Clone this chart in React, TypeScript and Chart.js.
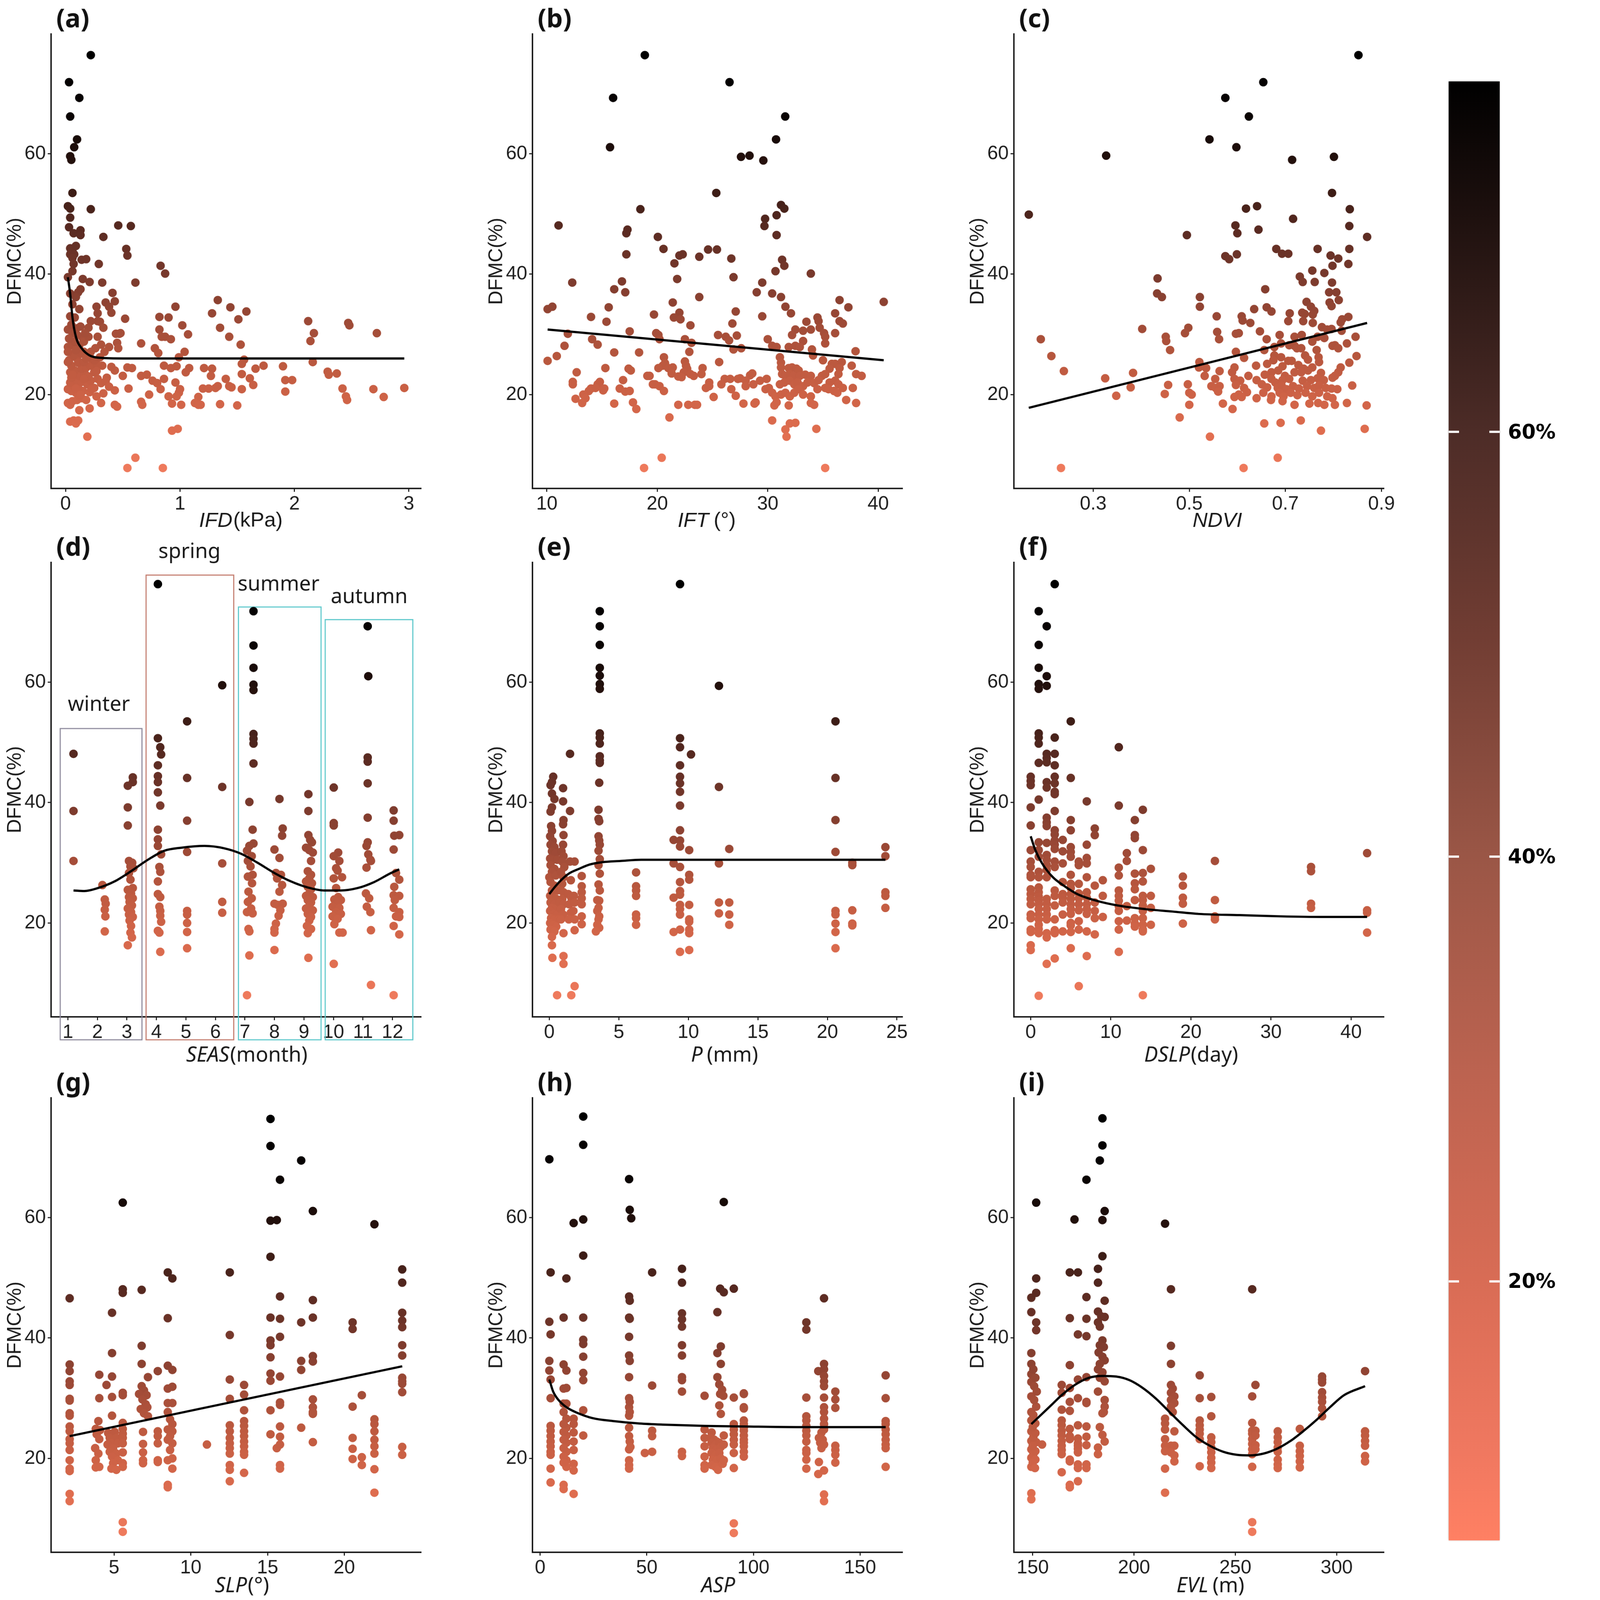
import { useEffect, useRef } from 'react';
import { Chart, registerables } from 'chart.js';

Chart.register(...registerables);

type Pt = [number, number];
type Col = [number, number[]];

// ---- (a) IFD ----
const ifdPoints: Pt[] = [
  [0.22,76.4],[0.03,71.9],[0.12,69.3],[0.04,66.2],[0.10,62.4],[0.075,61.1],[0.04,59.6],[0.05,59.0],[0.06,53.5],[0.02,51.3],[0.04,50.9],[0.04,49.4],[0.22,50.8],[0.07,46.8],[0.13,47.3],[0.13,46.5],[0.46,48.1],[0.57,48.0],[0.33,46.2],[0.04,44.3],[0.06,44.1],[0.04,43.3],[0.075,43.3],[0.06,42.7],[0.14,42.4],[0.18,42.5],[0.53,44.2],[0.54,43.1],[0.29,41.7],[0.83,41.4],[0.87,40.1],[0.06,40.5],[0.02,39.5],[0.15,39.2],[0.21,38.7],[0.32,38.6],[0.61,38.6],[0.13,37.5],[0.11,37.0],[0.04,36.8],[0.09,36.2],[0.41,36.9],[0.43,35.5],[0.35,35.3],[0.38,34.6],[0.40,33.6],[0.27,34.6],[0.28,33.5],[0.12,34.2],[0.04,33.0],
  [0.96,34.6],[1.33,35.7],[1.44,34.5],[1.58,33.8],[1.28,33.5],[0.82,32.9],[0.90,32.8],[0.52,32.6],[0.28,32.2],[0.30,32.1],[1.51,32.5],[2.12,32.2],[2.47,31.9],[2.48,31.5],[1.02,31.5],[1.35,31.1],[0.82,30.8],[0.02,30.8],[0.06,30.2],[0.095,31.0],[1.07,30.0],[2.17,30.2],[2.72,30.2],[0.44,30.1],[0.47,30.1],[0.48,30.2],[0.84,29.6],[0.87,29.6],[0.92,29.2],[1.43,29.6],[0.28,29.6],[0.15,29.4],[2.14,28.9],[0.45,28.6],[0.31,28.3],[0.66,28.5],[1.53,28.3],[0.02,27.9],[0.05,28.2],[0.12,28.2],[0.38,27.9],[0.46,27.7],[0.78,27.7],[0.81,26.9],[1.04,27.1],[0.16,27.1],[0.22,27.1],[0.99,26.2],[1.56,25.8],[1.54,25.1],[2.16,25.4],[0.03,25.7],[0.10,26.0],[0.22,26.0],
  [0.32,24.8],[0.54,24.5],[0.58,24.4],[0.86,24.8],[0.92,24.4],[0.97,24.7],[1.08,24.4],[1.21,24.4],[1.28,24.3],[1.66,24.3],[1.73,24.8],[1.90,24.7],[0.43,24.0],[1.05,23.7],[2.29,23.8],[2.30,23.3],[2.37,23.5],[1.54,23.4],[1.27,23.1],[0.36,22.8],[0.50,23.1],[0.66,23.1],[0.71,23.3],[1.40,22.6],[1.61,22.7],[0.86,22.6],[0.96,22.0],[1.92,22.4],[1.98,22.4],[0.76,22.3],[0.80,21.9],[1.64,21.6],[1.43,21.4],[1.45,21.2],[0.55,21.0],[1.20,21.0],[1.25,21.0],[1.31,21.1],[1.33,21.4],[1.54,20.9],[2.42,21.0],[2.69,20.9],[2.96,21.1],[1.00,20.9],[0.99,20.3],[1.92,20.5],[0.83,20.9],[0.73,20.0],[0.43,20.7],[0.97,19.7],[0.90,19.7],[2.45,19.7],[2.46,19.1],[2.78,19.6],[1.16,19.6],[0.66,18.8],[0.67,18.3],[0.93,18.5],[1.01,18.3],[1.13,18.6],[1.16,18.3],[1.18,18.3],[1.35,18.4],[1.50,18.2],[0.31,18.6],[0.43,18.3],[0.45,18.0],
  [0.02,18.6],[0.04,18.3],[0.06,18.9],[0.10,19.1],[0.14,19.4],[0.18,19.1],[0.12,19.8],[0.09,20.3],[0.05,20.6],[0.02,20.9],[0.15,20.6],[0.21,20.4],[0.25,21.1],[0.11,21.1],[0.07,21.5],[0.04,22.0],[0.10,22.3],[0.14,22.1],[0.19,21.7],[0.22,22.3],[0.28,22.6],[0.31,21.9],[0.05,22.8],[0.12,23.1],[0.17,23.4],[0.20,23.0],[0.25,23.7],[0.04,23.7],[0.08,24.0],[0.14,24.3],[0.18,24.5],[0.22,24.8],[0.28,24.9],[0.05,24.8],[0.11,25.3],[0.02,25.4],[0.16,25.4],[0.25,25.7],[0.30,26.2],[0.07,26.5],[0.14,26.8],[0.19,26.5],[0.09,27.4],[0.02,27.1],[0.08,28.8],[0.16,28.8],[0.20,29.6],[0.33,31.1],[0.13,31.3],[0.05,31.6],[0.22,32.2],[0.08,32.8],[0.20,31.1],[0.17,30.2],[0.26,27.7],[0.34,27.1],[0.27,19.7],[0.21,17.7],[0.12,17.4],
  [0.06,23.3],[0.16,22.6],[0.09,21.0],[0.13,20.0],[0.23,20.9],[0.27,23.9],[0.35,22.2],[0.38,21.3],[0.33,20.2],[0.40,24.6],[0.18,26.0],[0.03,29.3],[0.10,29.9],[0.06,35.0],[0.03,47.8],[0.09,44.7],[0.07,41.7],
  [0.19,13.0],[0.04,15.5],[0.07,15.7],[0.09,15.2],[0.11,15.7],[0.93,14.0],[0.98,14.3],[0.61,9.5],[0.54,7.8],[0.85,7.8],
];
const ifdFit: Pt[] = [[0.02,39.5],[0.04,36.7],[0.06,32.8],[0.09,29.6],[0.14,27.7],[0.21,26.5],[0.31,26.1],[0.5,26.0],[1.0,26.0],[2.0,26.0],[2.96,26.0]];

// ---- (b) IFT ----
const iftPoints: Pt[] = [
  [18.87,76.4],[26.54,71.9],[16.0,69.3],[31.58,66.2],[30.75,62.4],[15.72,61.1],[27.58,59.5],[28.35,59.7],[29.6,58.9],[25.34,53.5],[18.47,50.8],[31.2,51.5],[31.5,50.9],[30.8,49.8],[29.76,49.2],[29.7,48.0],[11.06,48.1],[17.3,47.4],[17.2,46.8],[30.8,46.5],[20.05,46.2],[20.56,44.2],[24.6,44.1],[25.4,44.1],[22.0,43.1],[22.3,43.3],[17.2,43.3],[23.8,42.9],[26.7,42.6],[31.3,42.4],[31.5,41.4],[21.55,41.8],[21.8,39.2],[26.9,39.5],[30.7,40.5],[33.9,40.1],[12.3,38.6],[16.8,38.8],[29.5,38.6],[16.1,37.5],[17.1,37.0],[29.0,37.0],[30.4,36.8],[23.8,36.2],[31.2,36.2],
  [10.07,34.2],[10.5,34.6],[21.4,35.3],[36.5,35.7],[40.5,35.4],[15.6,34.5],[31.6,34.6],[37.3,34.5],[14.0,32.9],[19.7,33.3],[22.0,33.6],[27.1,33.8],[29.5,33.0],[32.1,33.5],[36.1,33.5],[15.4,32.1],[21.5,32.8],[22.1,32.5],[33.5,32.1],[34.5,32.8],[34.6,32.2],[36.5,32.2],[36.8,31.8],[23.0,31.5],[26.8,31.8],[33.9,30.8],[34.7,31.1],[32.5,30.8],[33.2,30.6],[17.5,30.5],[11.9,30.1],[19.9,30.2],[20.1,29.9],[25.5,29.9],[26.2,29.6],[27.2,29.8],[32.2,29.9],[35.1,30.2],[36.1,30.2],[14.1,29.2],[20.2,29.2],[22.5,29.2],[26.5,29.0],[30.0,29.2],[33.2,28.9],[35.2,29.6],[14.6,28.3],[23.1,28.6],[30.4,28.1],[30.8,27.9],[31.9,27.9],[32.5,28.1],[32.9,27.9],[35.2,28.5],[11.6,28.1],[18.35,27.0],[16.1,27.0],[22.9,27.1],[26.9,27.5],[27.6,27.7],[34.0,27.5],[37.95,27.2],[10.9,26.4],[20.6,26.2],[31.1,26.2],[34.1,26.5],
  [10.07,25.6],[25.6,25.4],[31.2,25.3],[35.0,25.7],[35.8,25.1],[36.1,25.1],[36.7,25.4],[20.7,25.2],[20.5,24.8],[20.1,24.4],[22.5,25.5],[22.6,24.8],[15.3,24.4],[17.4,24.3],[17.6,24.0],[21.0,24.4],[21.4,24.5],[24.1,24.4],[22.7,24.3],[31.2,24.5],[31.9,24.4],[32.2,24.5],[32.6,24.3],[32.8,24.0],[37.6,24.8],[35.6,24.3],[36.5,24.4],[12.7,23.7],[21.3,23.5],[22.4,23.7],[23.0,23.4],[24.0,23.4],[19.3,23.1],[19.1,23.1],[31.3,23.4],[31.6,23.1],[32.0,23.4],[32.3,23.1],[32.9,23.1],[33.4,23.3],[33.9,23.1],[34.9,23.1],[35.2,23.4],[36.4,23.4],[38.0,23.4],[38.5,23.1],[28.4,23.2],[28.6,23.5],[27.5,22.7],[21.9,23.0],[22.2,22.9],[23.3,23.1],
  [12.35,22.1],[16.9,22.4],[19.8,21.7],[26.1,22.6],[26.6,22.6],[27.3,22.6],[28.0,22.3],[29.3,22.3],[29.9,22.6],[14.6,21.7],[14.8,22.1],[24.7,22.0],[25.8,21.7],[28.0,21.4],[28.7,21.7],[31.1,21.7],[31.5,22.0],[32.0,22.3],[32.4,21.7],[32.7,22.0],[33.2,21.4],[33.6,22.0],[34.2,21.9],[34.6,22.4],[35.6,22.0],[36.1,22.3],[36.4,21.7],[12.35,21.7],[14.0,21.0],[14.4,21.1],[13.8,20.6],[13.3,20.0],[13.5,19.4],[13.2,18.6],[15.1,20.7],[15.2,21.0],[16.6,21.0],[17.1,20.5],[17.5,20.6],[19.6,21.7],[20.2,21.4],[20.6,20.6],[24.4,21.1],[24.7,21.4],[26.7,20.9],[27.1,19.8],[25.1,19.6],[29.8,20.9],[30.1,21.1],[30.4,20.3],[30.7,19.7],[31.2,20.0],[31.6,20.3],[32.0,19.7],[32.4,20.3],[32.8,20.9],[33.2,20.0],[33.9,19.7],[34.5,20.9],[35.2,21.1],[35.5,20.9],[36.0,20.6],[36.3,20.3],[36.8,21.1],[37.7,21.1],
  [12.6,19.3],[16.1,18.5],[17.8,18.7],[18.1,17.6],[21.9,18.3],[22.8,18.3],[23.4,18.3],[23.6,18.3],[27.8,18.5],[28.8,18.5],[28.9,18.7],[30.6,18.2],[30.8,18.7],[31.9,18.2],[33.9,18.6],[34.2,18.3],[37.1,19.1],[38.0,18.6],[21.1,16.2],[30.4,15.7],[32.0,15.2],[32.5,15.3],[31.6,14.2],[31.7,13.0],[34.4,14.3],[20.4,9.5],[18.8,7.8],[35.2,7.8],
];
const iftFit: Pt[] = [[10.07,30.8],[40.5,25.7]];

// ---- (c) NDVI ----
const ndviPoints: Pt[] = [
  [0.852,76.4],[0.654,71.9],[0.575,69.3],[0.624,66.2],[0.542,62.4],[0.598,61.1],[0.327,59.7],[0.801,59.5],[0.714,59.0],[0.797,53.5],[0.166,49.9],[0.618,50.9],[0.641,51.3],[0.834,50.8],[0.716,49.2],[0.596,48.1],[0.833,48.0],[0.495,46.5],[0.600,46.8],[0.644,47.4],[0.870,46.2],[0.681,44.2],[0.767,44.2],[0.833,44.2],[0.693,43.4],[0.706,43.4],[0.599,43.3],[0.575,43.0],[0.583,42.5],[0.794,43.1],[0.810,42.6],[0.831,41.7],[0.798,41.4],[0.756,40.6],[0.781,40.2],[0.434,39.3],[0.730,39.6],[0.736,38.7],[0.761,38.7],[0.797,38.6],[0.658,37.5],[0.791,37.0],[0.806,37.0],[0.433,36.8],[0.443,36.2],[0.522,36.2],[0.811,35.7],[0.744,35.4],[0.792,35.3],[0.796,34.7],
  [0.522,34.6],[0.661,34.5],[0.753,34.6],[0.760,33.9],[0.635,34.2],[0.671,33.8],[0.709,33.5],[0.735,33.6],[0.740,33.4],[0.757,33.3],[0.557,33.0],[0.609,33.0],[0.818,32.5],[0.831,32.9],[0.611,32.3],[0.627,31.9],[0.706,32.2],[0.737,32.2],[0.757,31.9],[0.815,32.0],[0.776,31.2],[0.787,30.8],[0.796,30.9],[0.817,30.6],[0.402,30.9],[0.498,31.1],[0.491,30.2],[0.558,30.4],[0.597,30.1],[0.603,30.2],[0.647,30.5],[0.688,29.9],[0.719,29.6],[0.734,29.9],[0.767,29.6],[0.781,29.4],[0.846,29.6],[0.191,29.2],[0.451,29.6],[0.452,28.9],[0.562,29.2],[0.661,29.2],[0.691,28.5],[0.708,28.2],[0.719,28.1],[0.756,28.8],[0.798,28.1],[0.803,28.2],[0.828,28.5],[0.460,27.4],[0.656,27.4],[0.677,27.9],[0.724,27.7],[0.733,27.7],[0.765,27.4],[0.810,27.7],[0.597,27.1],[0.614,26.1],[0.677,26.5],[0.691,26.2],[0.741,26.5],[0.769,26.2],[0.213,26.4],[0.848,26.4],
  [0.521,25.4],[0.675,25.7],[0.706,25.6],[0.713,25.6],[0.747,25.8],[0.770,25.4],[0.833,25.3],[0.520,24.5],[0.535,24.4],[0.594,24.5],[0.639,24.8],[0.662,25.1],[0.694,24.7],[0.727,24.9],[0.738,24.3],[0.756,24.5],[0.815,24.5],[0.239,23.9],[0.383,23.6],[0.563,23.9],[0.589,23.7],[0.671,23.7],[0.685,24.0],[0.719,23.7],[0.733,23.7],[0.747,24.0],[0.774,23.6],[0.810,23.7],[0.532,23.1],[0.623,23.1],[0.657,23.3],[0.699,23.1],[0.798,22.8],[0.803,23.1],[0.325,22.7],[0.554,22.6],[0.594,22.6],[0.606,22.3],[0.640,22.4],[0.671,22.6],[0.679,22.0],[0.694,22.4],[0.708,22.6],[0.736,22.3],[0.753,22.4],[0.767,22.7],[0.780,22.4],
  [0.378,21.2],[0.456,21.6],[0.497,21.7],[0.546,21.4],[0.555,21.1],[0.563,21.4],[0.597,21.6],[0.614,21.1],[0.651,21.7],[0.662,21.2],[0.684,21.1],[0.692,21.5],[0.702,20.9],[0.716,21.4],[0.728,21.0],[0.745,21.4],[0.760,21.1],[0.770,21.5],[0.784,21.1],[0.796,21.0],[0.808,20.9],[0.839,21.5],[0.348,19.8],[0.449,20.1],[0.500,20.3],[0.505,20.0],[0.560,20.5],[0.603,20.0],[0.620,20.4],[0.654,20.3],[0.671,19.7],[0.688,20.3],[0.696,19.7],[0.711,20.3],[0.725,19.9],[0.742,20.3],[0.756,19.7],[0.770,20.3],[0.787,19.7],[0.798,19.4],[0.594,19.6],[0.609,19.6],[0.640,19.4],[0.670,19.1],[0.694,18.9],[0.719,18.3],[0.750,18.5],[0.768,18.6],[0.781,18.3],[0.803,18.3],[0.828,18.6],[0.500,18.3],[0.570,18.5],[0.590,17.6],[0.869,18.2],
  [0.480,16.2],[0.656,15.2],[0.690,15.3],[0.732,15.7],[0.774,14.0],[0.865,14.3],[0.543,13.0],[0.684,9.5],[0.233,7.8],[0.613,7.8],
];
const ndviFit: Pt[] = [[0.166,17.8],[0.870,31.9]];

// ---- (d) SEAS ----
const seasPoints: Pt[] = [
  [1.19,48.1],[1.19,38.6],[1.19,30.3],
  [2.17,26.3],[2.25,23.9],[2.28,23.2],[2.25,22.2],[2.27,21.1],[2.25,18.6],
  [3.20,44.2],[3.20,43.4],[3.03,42.8],[3.03,39.2],[3.03,36.2],[3.07,30.3],[3.18,30.0],[3.12,29.4],[3.22,29.1],[3.07,28.3],[3.12,27.2],[3.20,25.8],[3.03,25.5],[3.14,24.9],[3.07,24.3],[3.20,24.1],[3.09,23.5],[3.17,22.9],[3.03,22.4],[3.14,21.8],[3.07,21.4],[3.20,21.0],[3.09,20.4],[3.14,19.5],[3.12,18.4],[3.17,17.6],[3.03,16.3],
  [4.05,76.3],[4.05,50.7],[4.13,49.2],[4.16,48.0],[4.05,46.2],[4.05,44.4],[4.05,43.4],[4.05,41.7],[4.13,39.5],[4.05,35.5],[4.05,33.9],[4.05,32.8],[4.16,31.4],[4.10,29.3],[4.13,28.5],[4.05,26.9],[4.05,24.8],[4.13,24.3],[4.10,22.7],[4.13,22.0],[4.13,21.2],[4.16,20.2],[4.05,18.7],[4.10,18.4],[4.13,15.2],
  [5.04,53.5],[5.04,44.1],[5.04,37.0],[5.04,31.8],[5.04,22.0],[5.04,21.4],[5.04,20.0],[5.04,18.5],[5.04,15.8],
  [6.23,59.5],[6.23,42.6],[6.23,29.9],[6.23,23.5],[6.23,21.7],
  [7.29,71.8],[7.29,66.1],[7.29,62.4],[7.29,59.6],[7.29,58.7],[7.29,51.4],[7.29,50.6],[7.29,49.8],[7.29,46.5],[7.15,40.1],[7.26,35.5],[7.29,33.2],[7.15,32.8],[7.07,32.0],[7.23,31.1],[7.10,30.3],[7.19,29.4],[7.26,28.0],[7.10,27.7],[7.24,26.6],[7.12,25.2],[7.23,24.1],[7.10,23.5],[7.21,22.4],[7.07,21.8],[7.26,21.6],[7.12,19.0],[7.15,18.6],[7.15,14.6],[7.07,8.0],
  [8.17,40.6],[8.28,35.7],[8.26,34.5],[8.0,32.2],[8.17,30.8],[8.05,28.3],[8.22,28.0],[8.09,27.4],[8.26,26.3],[8.17,25.2],[8.00,23.2],[8.11,23.0],[8.28,23.2],[8.20,22.1],[8.14,21.2],[8.05,19.9],[8.00,19.0],[8.00,18.4],[8.00,15.5],
  [9.15,41.4],[9.15,38.6],[9.15,34.6],[9.21,33.8],[9.27,33.4],[9.07,32.5],[9.18,32.1],[9.30,31.7],[9.24,30.3],[9.13,28.6],[9.24,28.0],[9.18,27.4],[9.07,26.9],[9.27,26.6],[9.13,26.0],[9.24,25.6],[9.18,24.9],[9.07,24.5],[9.30,24.3],[9.13,23.8],[9.24,23.4],[9.18,22.8],[9.07,22.4],[9.30,22.1],[9.13,21.5],[9.24,21.0],[9.18,20.4],[9.10,19.5],[9.24,19.0],[9.13,18.3],[9.15,14.2],
  [10.01,42.5],[10.01,36.6],[10.01,36.2],[10.16,31.7],[10.01,31.1],[10.20,30.3],[10.09,29.1],[10.14,28.7],[10.29,27.6],[10.01,27.4],[10.09,25.8],[10.16,24.3],[10.25,23.8],[10.03,23.9],[10.14,23.2],[9.97,22.7],[10.20,22.5],[10.09,21.8],[10.25,21.5],[9.97,21.1],[10.14,20.7],[10.03,19.8],[10.20,18.4],[10.31,18.4],[10.01,13.2],
  [11.16,69.3],[11.18,61.0],[11.16,47.5],[11.16,46.8],[11.16,43.2],[11.16,37.5],[11.16,33.4],[11.12,32.8],[11.18,31.4],[11.25,30.5],[11.12,29.2],[11.27,30.3],[11.10,24.9],[11.21,24.1],[11.13,22.7],[11.25,21.8],[11.27,18.8],[11.27,9.7],
  [12.04,38.7],[12.04,37.0],[12.06,34.5],[12.23,34.6],[12.04,32.2],[12.12,28.3],[12.23,27.2],[12.06,26.0],[12.04,24.6],[12.23,24.5],[12.08,23.8],[12.04,22.5],[12.23,21.8],[12.12,21.1],[12.23,21.0],[12.04,19.5],[12.23,18.1],[12.04,8.0],
];
const seasFit: Pt[] = [[1.19,25.4],[1.56,25.3],[2.02,25.8],[2.58,26.9],[3.14,28.6],[3.71,30.5],[4.27,32.0],[4.84,32.5],[5.63,32.8],[6.30,32.4],[6.87,31.5],[7.43,30.0],[8.00,28.3],[8.56,26.9],[9.13,25.9],[9.69,25.4],[10.25,25.4],[10.82,25.8],[11.38,26.8],[11.95,28.3],[12.23,28.9]];
const seasonNames = ['winter', 'spring', 'summer', 'autumn'];
const seasonMonthFrom = [0.74, 3.65, 6.78, 9.72];
const seasonMonthTo = [3.51, 6.62, 9.58, 12.69];
const seasonBoxTop = [52.3, 77.8, 72.5, 70.4];
const seasonLabelAt: Pt[] = [[2.05, 56.2], [5.12, 81.6], [8.14, 76.2], [11.21, 74.1]];

// ---- (e) P ----
const pPoints: Pt[] = [
  [0.28,44.3],[0.19,43.4],[0.09,42.9],[0.19,41.5],[0.37,40.6],[0.19,39.2],[0.09,38.5],[0.13,36.1],[0.19,35.3],[0.06,34.4],[0.24,33.6],[0.09,33.0],[0.37,32.6],[0.19,31.9],[0.47,31.6],[0.06,30.7],[0.28,30.5],[0.56,30.5],[0.09,29.6],[0.37,29.0],[0.19,28.5],[0.0,27.6],[0.47,27.9],[0.09,26.8],[0.37,26.2],[0.19,25.4],[0.56,25.4],[0.06,24.5],[0.28,24.2],[0.50,24.0],[0.09,23.4],[0.37,23.1],[0.65,23.0],[0.19,22.5],[0.47,22.3],[0.06,22.0],[0.28,21.5],[0.56,21.4],[0.13,20.8],[0.37,20.6],[0.65,20.6],[0.06,20.0],[0.28,19.7],[0.50,19.4],[0.09,18.9],[0.37,18.6],[0.19,17.7],[0.19,16.3],[0.22,14.2],
  [0.99,42.4],[0.99,40.2],[1.02,37.1],[0.99,36.4],[1.02,34.6],[0.99,33.0],[0.88,31.9],[1.02,31.1],[0.93,30.2],[1.08,29.3],[0.84,28.5],[1.02,27.6],[0.93,26.5],[0.84,25.4],[1.02,25.1],[0.93,24.0],[0.74,23.4],[1.02,23.1],[0.84,22.3],[0.99,21.4],[0.84,20.6],[1.02,18.3],[1.02,14.5],[1.02,13.2],
  [1.49,48.1],[1.49,38.6],[1.49,30.2],[1.55,27.1],[1.36,24.8],[1.58,24.2],[1.43,23.1],[1.55,21.7],[1.40,20.6],[0.56,8.0],[1.58,8.0],
  [1.82,30.2],[1.77,24.5],[1.82,23.4],[1.73,22.0],[1.82,20.6],[1.82,18.8],[1.82,9.5],
  [2.33,27.8],[2.33,26.1],[2.33,25.1],[2.33,24.1],[2.33,23.1],[2.33,21.1],[2.33,19.8],
  [3.63,71.8],[3.63,69.3],[3.63,66.2],[3.63,62.4],[3.63,61.1],[3.63,59.7],[3.63,58.9],[3.63,51.5],[3.63,50.8],[3.63,49.8],[3.63,47.7],[3.63,47.0],[3.63,46.6],[3.59,43.3],[3.54,38.8],[3.54,37.3],[3.59,36.9],[3.54,34.4],[3.59,33.7],[3.63,33.0],[3.54,32.0],[3.63,30.6],[3.54,29.6],[3.63,28.2],[3.54,26.4],[3.63,25.4],[3.45,23.8],[3.59,23.7],[3.54,22.5],[3.45,22.0],[3.59,21.1],[3.54,20.6],[3.45,19.7],[3.59,19.2],[3.35,18.6],
];
const pCols: Col[] = [
  [6.24, [28.4,26.1,25.4,24.5,21.4,20.8,19.7]],
  [8.94, [33.8,29.9,24.2,18.5]],
  [9.40, [76.3,50.7,49.2,46.2,44.3,43.2,41.8,39.5,35.4,33.7,32.7,29.3,26.8,25.3,24.7,23.0,22.3,21.4,18.9,15.2]],
  [10.19, [48.0]],
  [10.06, [32.1,28.0,27.2,23.0,20.6,20.2,18.9,18.3,15.5]],
  [12.2, [59.4,42.6,29.9,23.4,21.6]],
  [12.94, [32.3,23.4,21.4,19.7]],
  [20.58, [53.5,44.1,37.1,31.8,22.0,21.4,19.9,18.5,15.8]],
  [21.79, [30.0,29.6,22.1,19.9,19.6]],
  [24.17, [32.6,31.1,25.1,24.5,22.5]],
];
const pFit: Pt[] = [[0,24.8],[0.37,25.9],[0.84,27.1],[1.4,28.2],[2.14,29.0],[2.89,29.7],[3.82,30.1],[5.12,30.3],[6.61,30.5],[8.47,30.5],[24.17,30.5]];

// ---- (f) DSLP ----
const dslpCols: Col[] = [
  [0, [44.3,43.6,42.9,39.2,36.2,32.1,30.2,29.3,28.0,27.6,25.6,24.8,24.0,23.1,21.4,20.8,18.9,18.5,16.3,15.5]],
  [1, [71.8,66.2,62.4,59.7,58.9,51.5,50.8,49.8,46.6,40.5,33.4,32.1,31.0,28.5,27.6,25.9,25.1,24.4,23.7,23.1,22.3,21.4,20.6,19.7,19.0,18.3,7.9]],
  [2, [69.3,61.0,59.4,48.1,47.4,46.7,43.4,42.5,37.5,36.7,36.1,33.3,31.3,30.5,29.6,28.8,27.6,24.0,23.2,22.3,21.4,20.6,18.3,17.6,13.2]],
  [3, [76.3,50.8,48.1,46.2,44.3,43.2,41.8,41.4,38.6,35.4,34.7,33.7,33.0,32.3,30.2,29.3,25.4,24.5,22.9,20.6,18.8,18.3,14.1]],
  [4, [33.8,31.9,29.9,26.8,24.8,24.2,23.4,21.4,18.6]],
  [5, [53.5,44.1,37.1,35.4,32.6,31.8,31.0,28.0,26.5,25.8,24.8,24.0,23.1,22.3,21.5,20.0,19.6,18.5,15.8]],
  [6, [30.2,29.6,26.5,24.9,24.1,23.1,22.1,20.3,18.9,9.5]],
  [7, [40.2,33.0,30.8,29.9,27.6,25.1,24.2,23.1,22.3,21.5,18.6,14.5]],
  [8, [35.7,34.6,26.2,23.4,22.0,20.8,18.1]],
  [9, [27.1,24.5,21.0]],
  [11, [49.2,39.5,29.2,27.9,25.4,24.5,23.7,22.8,22.0,20.3,18.9,15.2]],
  [12, [31.6,30.3,22.8,20.4]],
  [13, [37.1,34.6,34.1,28.2,26.6,25.6,23.8,20.8,19.9,19.4]],
  [14, [38.8,32.1,28.3,26.9,24.5,23.8,22.9,22.0,20.8,19.7,18.9,18.6,8.0]],
  [15, [29.0,24.5,22.5,19.7]],
  [19, [27.7,26.2,24.2,23.2,19.9]],
  [23, [30.3,23.8,21.1,20.6]],
  [35, [29.3,28.6,23.2,22.5]],
  [42, [31.6,22.1,21.7,18.4]],
];
const dslpFit: Pt[] = [[0,34.4],[0.58,32.1],[1.42,29.9],[2.77,27.6],[4.13,26.2],[5.82,24.8],[8.19,23.7],[10.9,22.9],[14.3,22.3],[17.7,21.9],[21.0,21.5],[26.1,21.3],[31.2,21.1],[36.3,21.0],[42.0,21.0]];

// ---- (g) SLP ----
const slpPoints: Pt[] = [
  [4.04,33.9],[4.04,30.0],[3.98,26.2],[3.81,24.9],[4.09,24.7],[3.87,24.0],[4.04,23.2],[3.77,21.7],[3.98,20.8],[3.81,19.7],[3.81,18.5],[4.04,18.6],
  [4.87,44.2],[4.87,37.5],[4.87,33.6],[4.51,32.2],[4.87,30.2],[4.87,27.1],[4.62,24.2],[5.04,24.4],[4.72,23.4],[5.15,23.4],[4.83,22.5],[4.58,22.3],[5.25,22.5],[4.94,21.7],[4.72,21.1],[5.15,20.8],[4.87,20.3],[5.25,19.7],[4.94,19.2],[4.83,18.3],[5.15,18.1],
  [6.80,48.0],[6.80,38.7],[6.80,35.7],[6.80,32.0],[7.21,33.5],[6.95,31.3],[6.63,30.7],[7.12,30.5],[6.85,29.8],[7.06,29.0],[6.74,28.2],[7.17,28.5],[6.95,27.5],[7.21,27.0],[6.89,24.4],[6.89,22.4],[6.89,21.0],[6.89,19.7],[6.89,19.2],
  [8.50,50.9],[8.80,49.9],[8.50,43.3],[8.50,35.4],[8.80,34.7],[8.50,31.6],[8.80,31.9],[8.50,29.2],[8.80,29.2],[8.50,27.7],[8.65,26.5],[8.80,25.7],[8.50,24.8],[8.80,24.5],[8.65,23.7],[8.50,23.1],[8.80,22.5],[8.65,21.4],[8.50,19.7],[8.80,20.0],[8.80,18.3],[8.50,15.6],[8.50,15.2],
];
const slpCols: Col[] = [
  [2.11, [46.6,35.6,34.5,32.8,32.2,29.9,29.6,27.5,27.1,25.3,24.5,23.2,22.5,21.4,19.7,18.3,17.9,14.1,12.9]],
  [5.57, [62.5,48.1,47.5,30.9,30.5,25.9,24.9,24.1,23.4,22.5,21.0,19.2,18.6,9.4,7.8]],
  [7.85, [34.5,24.5,23.7,22.5,19.7,19.4]],
  [11.05, [22.3]],
  [12.54, [50.9,40.5,33.1,29.9,25.5,24.5,23.4,22.5,21.7,20.8,18.9,18.1,16.2]],
  [13.47, [32.2,30.6,28.0,26.2,25.4,24.5,23.7,22.8,22.0,21.1,20.6,17.6]],
  [15.19, [76.4,71.9,59.5,53.5,43.4,39.6,38.8,36.8,34.1,32.9,28.0,24.0]],
  [15.6, [59.6,21.7]],
  [15.81, [66.3,46.9,43.2,40.2,33.6,29.3,28.9,25.3,23.6,22.3,18.9,18.3]],
  [17.19, [69.5,42.6,36.2,34.7,25.1]],
  [17.95, [61.1,46.3,43.4,37.0,36.1,29.8,28.5,27.7,27.4,22.7]],
  [20.54, [42.6,41.5,28.6,23.4,21.6,19.9]],
  [21.14, [30.5,20.2,18.9]],
  [21.96, [58.9,26.5,25.7,24.5,23.1,22.0,20.8,18.2,14.3]],
  [23.77, [51.4,49.2,44.2,42.9,41.8,38.8,37.1,33.4,32.8,32.4,31.0,21.9,20.6]],
];
const slpFit: Pt[] = [[2.11,23.7],[23.77,35.3]];

// ---- (h) ASP ----
const aspPoints: Pt[] = [
  [83.1,44.3],[83.1,37.5],[83.1,33.5],[84.4,48.2],[84.7,38.6],[84.7,35.7],[84.0,32.3],[85.3,31.4],[84.4,30.7],[85.9,30.4],[84.0,28.8],[84.7,27.4],[80.4,24.3],[79.8,23.4],[81.6,23.1],[82.8,22.8],[80.4,22.6],[82.2,22.3],[84.0,22.6],[81.0,21.7],[82.8,21.5],[84.7,21.9],[80.4,20.9],[82.2,20.6],[84.0,20.9],[81.0,19.8],[82.8,19.7],[84.7,20.0],[80.4,18.9],[82.2,18.6],[83.4,18.1],[85.6,19.1],
  [130.4,34.5],[131.9,24.3],[130.7,23.4],[132.5,23.1],[131.3,22.6],[131.9,21.7],[130.7,19.4],[130.4,17.4],
];
const aspCols: Col[] = [
  [4.3, [69.7,42.7,36.2,34.6]],
  [4.9, [50.9,40.6,33.1,30.0,25.4,24.6,23.7,22.8,22.0,21.1,20.6,18.3,16.0]],
  [12.3, [49.9,34.6,31.7,29.1,26.6,25.1,23.8,22.6,21.1,19.7,18.6]],
  [11.0, [43.4,35.6,31.6,29.1,27.7,25.7,24.4,23.1,21.7,20.3,19.3,15.6,14.9]],
  [15.7, [59.1,26.6,25.7,24.3,22.8,21.4,19.1,18.0,14.1]],
  [20.2, [76.8,72.1,59.7,53.7,43.4,39.7,39.0,36.9,34.2,33.0,28.0,23.8]],
  [41.7, [66.4,46.9,43.4,40.2,37.1,33.5,30.0,28.5,27.1,25.1,23.7,21.5,19.7,18.9,18.3]],
  [42.0, [61.3,46.2,43.2,36.2,29.4,27.7,22.8]],
  [42.7, [59.9]],
  [42.3, [21.9]],
  [49.1, [20.9]],
  [52.5, [50.9,32.1,24.6,23.7,21.1]],
  [66.5, [51.5,49.2,44.1,43.1,41.9,38.8,37.1,33.5,33.0,31.1,21.1,20.4]],
  [77.1, [30.4,24.8,23.4,22.0,20.3,18.9,18.3]],
  [86.1, [62.6,47.6,23.8,22.3,19.7]],
  [90.8, [48.2,30.1,25.7,24.8,24.0,23.1,22.3,20.9,18.4,9.2,7.6]],
  [95.5, [30.8,30.7,28.5,28.3,26.3,25.7,25.1,24.6,23.8,23.1,22.6,22.0,21.1,20.3]],
  [124.8, [42.6,41.4,30.1,27.0,26.3,25.4,24.6,23.8,22.8,21.4,20.9,19.8,18.3]],
  [133.1, [46.6,35.7,34.8,33.7,32.8,32.0,30.1,28.5,27.7,26.6,25.7,24.8,22.3,18.0,14.0,12.9]],
  [138.4, [31.1,29.8,28.4,22.1,21.4,20.6,19.3]],
  [162, [33.8,30.0,26.2,25.7,24.8,24.0,23.1,22.3,21.7,18.6]],
];
const aspFit: Pt[] = [[4.3,33.1],[6.1,31.1],[8.6,29.7],[12.3,28.5],[17.2,27.6],[24.5,26.7],[34.4,26.2],[46.6,25.8],[58.9,25.6],[77.3,25.4],[95.7,25.3],[120.2,25.2],[162,25.2]];

// ---- (i) EVL ----
const evlPoints: Pt[] = [
  [184.4,76.5],[184.4,72.0],[183.1,69.5],[185.5,61.1],[184.4,59.6],[184.4,53.6],[182.2,51.5],[182.2,49.2],[185.5,46.2],[182.2,44.4],[183.8,43.6],[185.5,43.5],[182.2,42.6],[183.1,41.9],[184.4,39.6],[183.1,38.8],[185.1,38.5],[182.5,37.6],[184.4,36.9],[185.5,36.3],[183.1,35.7],[182.2,34.8],[184.4,34.3],[183.1,33.4],[185.5,32.8],[182.2,31.1],[185.5,29.7],[185.5,28.6],[185.1,27.7],[184.4,27.5],[183.1,25.2],[184.4,23.9],[185.5,22.8],[182.2,21.8],[182.2,20.7],
  [218.2,48.1],[218.2,38.7],[218.2,35.7],[218.2,32.2],[219.1,31.6],[218.2,30.9],[219.9,30.3],[218.2,29.7],[219.9,29.2],[218.2,28.6],[219.1,27.7],[219.9,24.5],[218.2,22.1],[219.9,22.1],[218.2,21.0],[219.9,20.5],[219.9,19.5],
];
const evlCols: Col[] = [
  [149.3, [46.7,44.3,37.5,35.7,34.0,32.7,30.3,27.7,26.3,24.5,22.9,21.5,20.1,18.6,14.2,13.2]],
  [151.7, [62.5,49.9,47.5,42.6,41.3,28.6,22.7]],
  [150.3, [34.8,27.2,23.5,20.7]],
  [151.3, [33.4,25.8,24.2,21.2,19.8]],
  [150.7, [32.0,29.7]],
  [152.0, [31.1]],
  [150.0, [25.2,22.1,19.3]],
  [151.1, [18.4]],
  [154.6, [22.3]],
  [164.3, [32.2,30.9,28.1,26.3,25.5,24.6,23.8,22.9,22.1,21.4,20.7,17.7]],
  [168.3, [50.9,43.3,35.5,31.7,29.4,27.9,24.9,23.7,23.2,19.8,19.5,15.6,15.2]],
  [172.3, [50.9,40.6,33.1,30.0,25.5,23.3,22.5,22.1,21.6,21.0,19.0,18.4,16.2]],
  [170.6, [59.7]],
  [176.5, [66.3,46.8,43.2,40.3,33.5,29.4,29.2,25.3,23.6,22.2,19.0,18.4]],
  [215.3, [59.0,26.6,25.8,24.8,23.2,22.1,21.2,18.3,14.3]],
  [232.4, [33.8,30.0,26.3,25.5,24.8,24.1,23.2,18.7]],
  [238.1, [30.2,27.0,23.5,22.7,21.8,21.0,20.1,19.3,18.4]],
  [258.3, [48.1,30.3,25.9,24.6,24.1,23.2,22.4,21.5,20.7,18.6,9.4,7.8]],
  [259.9, [32.2,24.6,23.8,22.2,21.5]],
  [270.9, [24.5,23.5,22.7,21.8,21.1,19.8,19.0,18.4]],
  [281.8, [24.9,22.1,21.2,20.4,19.5,18.5]],
  [292.8, [33.6,33.1,32.6,31.0,30.1,29.4,28.3,27.0]],
  [314.0, [34.5,24.5,23.8,22.9,22.1,20.4,19.5]],
];
const evlFit: Pt[] = [[149.3,25.7],[154.0,27.2],[159.3,28.9],[164.6,30.6],[171.2,32.3],[177.8,33.4],[184.4,33.7],[191.1,33.6],[197.7,33.0],[204.3,31.7],[210.9,29.9],[217.5,27.7],[224.2,25.5],[230.8,23.5],[237.4,22.1],[244.0,21.1],[250.7,20.6],[257.3,20.5],[263.9,20.8],[270.5,21.6],[277.2,22.9],[283.8,24.6],[290.4,26.5],[297.0,28.6],[303.6,30.5],[314.0,32.0]];

// shared y axis / colour legend
const yTicks = [20, 40, 60];
const legendTicks = [60, 40, 20];
const legendMin = 7.8;
const legendMax = 76.5;

// ---------------------------------------------------------------------------

const PAGE_W = 4219;
const PAGE_H = 4324;
const Y_MIN = 4.4;
const Y_MAX = 79.9;
const PLOT_W = 1000;
const PLOT_H = 1228;
const ML = 138;
const MT = 92;
const MR = 40;
const MB = 140;
const CANVAS_W = ML + PLOT_W + MR;
const CANVAS_H = MT + PLOT_H + MB;
const COL_LEFT = [138, 1439, 2740];
const ROW_TOP = [92, 1520, 2967];
const TITLE_OFFSET = [88, 105, 92];

const colourStops: [number, number, number, number][] = [
  [7.8, 238, 122, 92],
  [13, 226, 111, 81],
  [20, 205, 98, 70],
  [25, 188, 89, 63],
  [30, 166, 78, 57],
  [35, 143, 67, 50],
  [40, 120, 57, 44],
  [47, 91, 43, 34],
  [53, 63, 30, 23],
  [60, 32, 15, 11],
  [66, 11, 5, 4],
  [76.5, 0, 0, 0],
];

function dfmcColour(v: number): string {
  const s = colourStops;
  if (v <= s[0][0]) return `rgb(${s[0][1]},${s[0][2]},${s[0][3]})`;
  for (let i = 1; i < s.length; i++) {
    if (v <= s[i][0]) {
      const t = (v - s[i - 1][0]) / (s[i][0] - s[i - 1][0]);
      const c = [1, 2, 3].map((k) => Math.round(s[i - 1][k] + (s[i][k] - s[i - 1][k]) * t));
      return `rgb(${c[0]},${c[1]},${c[2]})`;
    }
  }
  return 'rgb(0,0,0)';
}

const fromCols = (cols: Col[]): Pt[] => cols.flatMap(([x, ys]) => ys.map((y) => [x, y] as Pt));

interface PanelSpec {
  label: string;
  col: number;
  row: number;
  xMin: number;
  xMax: number;
  xTicks: number[];
  title: [string, string];
  titleFont: string;
  titleShift: number;
  points: Pt[];
  fit: Pt[];
  seasons?: boolean;
}

const panels: PanelSpec[] = [
  { label: '(a)', col: 0, row: 0, xMin: -0.127, xMax: 3.107, xTicks: [0, 1, 2, 3], title: ['IFD', '(kPa)'], titleFont: 'Liberation Sans', titleShift: 12, points: ifdPoints, fit: ifdFit },
  { label: '(b)', col: 1, row: 0, xMin: 8.7, xMax: 42.2, xTicks: [10, 20, 30, 40], title: ['IFT', '\u2009(°)'], titleFont: 'Liberation Sans', titleShift: -30, points: iftPoints, fit: iftFit },
  { label: '(c)', col: 2, row: 0, xMin: 0.135, xMax: 0.905, xTicks: [0.3, 0.5, 0.7, 0.9], title: ['NDVI', ''], titleFont: 'Liberation Sans', titleShift: 50, points: ndviPoints, fit: ndviFit },
  { label: '(d)', col: 0, row: 1, xMin: 0.43, xMax: 12.97, xTicks: [1, 2, 3, 4, 5, 6, 7, 8, 9, 10, 11, 12], title: ['SEAS', '(month)'], titleFont: 'Noto Sans', titleShift: 28, points: seasPoints, fit: seasFit, seasons: true },
  { label: '(e)', col: 1, row: 1, xMin: -1.21, xMax: 25.4, xTicks: [0, 5, 10, 15, 20, 25], title: ['P', '\u2009(mm)'], titleFont: 'Noto Sans', titleShift: 18, points: [...pPoints, ...fromCols(pCols)], fit: pFit },
  { label: '(f)', col: 2, row: 1, xMin: -2.1, xMax: 44.1, xTicks: [0, 10, 20, 30, 40], title: ['DSLP', '(day)'], titleFont: 'Noto Sans', titleShift: -22, points: fromCols(dslpCols), fit: dslpFit },
  { label: '(g)', col: 0, row: 2, xMin: 0.9, xMax: 25.0, xTicks: [5, 10, 15, 20], title: ['SLP', '(°)'], titleFont: 'Noto Sans', titleShift: 15, points: [...slpPoints, ...fromCols(slpCols)], fit: slpFit },
  { label: '(h)', col: 1, row: 2, xMin: -3.6, xMax: 169.9, xTicks: [0, 50, 100, 150], title: ['ASP', ''], titleFont: 'Noto Sans', titleShift: 2, points: [...aspPoints, ...fromCols(aspCols)], fit: aspFit },
  { label: '(i)', col: 2, row: 2, xMin: 140.7, xMax: 323.3, xTicks: [150, 200, 250, 300], title: ['EVL', '\u2009(m)'], titleFont: 'Noto Sans', titleShift: 30, points: [...evlPoints, ...fromCols(evlCols)], fit: evlFit },
];

const seasonColours = ['#8e8a9c', '#c47e70', '#5fc9cc', '#5fc9cc'];

function Panel({ spec }: { spec: PanelSpec }) {
  const canvasRef = useRef<HTMLCanvasElement>(null);
  const chartRef = useRef<Chart | null>(null);

  useEffect(() => {
    if (!canvasRef.current) return;
    const ctx = canvasRef.current.getContext('2d');
    if (!ctx) return;
    if (chartRef.current) chartRef.current.destroy();

    const decor = {
      id: 'panelDecor',
      beforeDatasetsDraw(chart: Chart) {
        if (!spec.seasons) return;
        const c = chart.ctx;
        const { chartArea } = chart;
        const xs = chart.scales.x;
        const ys = chart.scales.y;
        c.save();
        c.lineWidth = 3;
        seasonNames.forEach((name, i) => {
          const x0 = xs.getPixelForValue(seasonMonthFrom[i]);
          const x1 = xs.getPixelForValue(seasonMonthTo[i]);
          const y0 = ys.getPixelForValue(seasonBoxTop[i]);
          const y1 = chartArea.bottom + 62;
          c.strokeStyle = seasonColours[i];
          c.strokeRect(x0, y0, x1 - x0, y1 - y0);
          c.fillStyle = '#1a1a1a';
          c.font = '56px "Noto Sans"';
          c.textAlign = 'center';
          c.textBaseline = 'middle';
          c.fillText(name, xs.getPixelForValue(seasonLabelAt[i][0]), ys.getPixelForValue(seasonLabelAt[i][1]));
        });
        c.restore();
      },
      afterDraw(chart: Chart) {
        const c = chart.ctx;
        const { left, right, top, bottom } = chart.chartArea;
        c.save();
        c.fillStyle = '#111';
        // panel label
        c.font = 'bold 70px "Noto Sans"';
        c.textAlign = 'left';
        c.textBaseline = 'middle';
        c.fillText(spec.label, left + 14, top - 38);
        // y title
        c.save();
        c.translate(left - 97, (top + bottom) / 2);
        c.rotate(-Math.PI / 2);
        c.font = '53px "Liberation Sans"';
        c.textAlign = 'center';
        c.fillStyle = '#1a1a1a';
        c.fillText('DFMC(%)', 0, 0);
        c.restore();
        // x title, italic variable + upright unit
        const [it, rest] = spec.title;
        const itFont = `italic 56px "${spec.titleFont}"`;
        const upFont = `56px "${spec.titleFont}"`;
        c.font = itFont;
        const w1 = c.measureText(it).width;
        c.font = upFont;
        const w2 = c.measureText(rest).width;
        const x0 = (left + right) / 2 + spec.titleShift - (w1 + w2) / 2;
        const yT = bottom + TITLE_OFFSET[spec.row];
        c.fillStyle = '#1a1a1a';
        c.textAlign = 'left';
        c.font = itFont;
        c.fillText(it, x0, yT);
        c.font = upFont;
        c.fillText(rest, x0 + w1 + 2, yT);
        c.restore();
      },
    };

    const axisCommon = {
      type: 'linear' as const,
      grid: { display: true, drawOnChartArea: false, drawTicks: true, tickLength: 9, tickWidth: 3, color: '#222' },
      border: { display: true, color: '#1a1a1a', width: 4 },
    };

    chartRef.current = new Chart(ctx, {
      type: 'scatter',
      data: {
        datasets: [
          {
            data: spec.fit.map(([x, y]) => ({ x, y })),
            showLine: true,
            borderColor: '#000',
            borderWidth: 6,
            pointRadius: 0,
            fill: false,
            cubicInterpolationMode: 'monotone',
            order: 1,
          },
          {
            data: spec.points.map(([x, y]) => ({ x, y })),
            pointRadius: 11.5,
            pointBorderWidth: 0,
            pointBackgroundColor: spec.points.map(([, y]) => dfmcColour(y)),
            order: 2,
          },
        ],
      },
      options: {
        responsive: false,
        animation: false,
        layout: { padding: { left: 0, top: MT, right: MR, bottom: 0 } },
        plugins: { legend: { display: false }, tooltip: { enabled: false } },
        scales: {
          x: {
            ...axisCommon,
            min: spec.xMin,
            max: spec.xMax,
            afterFit: (scale: any) => { scale.height = MB; },
            afterBuildTicks: (scale: any) => { scale.ticks = spec.xTicks.map((v) => ({ value: v })); },
            ticks: {
              autoSkip: false,
              maxRotation: 0,
              padding: 2,
              color: '#1e1e1e',
              font: { family: 'Liberation Sans', size: 52 },
              callback: (v: any) => String(v),
            },
          },
          y: {
            ...axisCommon,
            min: Y_MIN,
            max: Y_MAX,
            afterFit: (scale: any) => { scale.width = ML; },
            afterBuildTicks: (scale: any) => { scale.ticks = yTicks.map((v) => ({ value: v })); },
            ticks: {
              padding: 5,
              color: '#1e1e1e',
              font: { family: 'Liberation Sans', size: 52 },
              callback: (v: any) => String(v),
            },
          },
        },
      },
      plugins: [decor],
    } as any);

    return () => {
      if (chartRef.current) {
        chartRef.current.destroy();
        chartRef.current = null;
      }
    };
  }, [spec]);

  const left = COL_LEFT[spec.col] - ML;
  const top = ROW_TOP[spec.row] - MT;
  return (
    <canvas
      ref={canvasRef}
      width={CANVAS_W}
      height={CANVAS_H}
      style={{ position: 'absolute', left, top, width: CANVAS_W, height: CANVAS_H }}
    />
  );
}

function ColourBar() {
  const barTop = 220;
  const barH = 3943;
  const barLeft = 3915;
  const barW = 138;
  const pos = (v: number) => barTop + ((legendMax - v) / (legendMax - legendMin)) * barH;
  return (
    <>
      <div
        style={{
          position: 'absolute',
          left: barLeft,
          top: barTop,
          width: barW,
          height: barH,
          background:
            'linear-gradient(to bottom, #000 0%, #1d100e 9%, #4d2c27 24%, #713d33 38%, #9a5646 53%, #bc6350 68%, #d86c55 82%, #f07860 94%, #ff8063 100%)',
          boxShadow: '0 0 5px rgba(0,0,0,0.35)',
        }}
      />
      {legendTicks.map((v) => (
        <div key={v}>
          <div style={{ position: 'absolute', left: barLeft, top: pos(v) - 3, width: 28, height: 6, background: '#fff' }} />
          <div style={{ position: 'absolute', left: barLeft + barW - 28, top: pos(v) - 3, width: 28, height: 6, background: '#fff' }} />
          <div
            style={{
              position: 'absolute',
              left: 4075,
              top: pos(v) - 40,
              height: 80,
              lineHeight: '80px',
              fontFamily: '"DejaVu Sans", sans-serif',
              fontWeight: 'bold',
              fontSize: 54,
              color: '#000',
              whiteSpace: 'nowrap',
            }}
          >
            {v}%
          </div>
        </div>
      ))}
    </>
  );
}

export default function App() {
  // fit the fixed 4219x4324 layout into whatever CSS viewport the browser reports
  const vw = typeof window !== 'undefined' ? window.innerWidth : PAGE_W;
  const vh = typeof window !== 'undefined' ? window.innerHeight : PAGE_H;
  const s = Math.min(vw / PAGE_W, vh / PAGE_H);
  return (
    <div
      style={{
        position: 'absolute',
        left: 0,
        top: 0,
        width: PAGE_W,
        height: PAGE_H,
        background: '#fff',
        overflow: 'hidden',
        transform: `scale(${s})`,
        transformOrigin: '0 0',
      }}
    >
      {panels.map((p) => (
        <Panel key={p.label} spec={p} />
      ))}
      <ColourBar />
    </div>
  );
}
